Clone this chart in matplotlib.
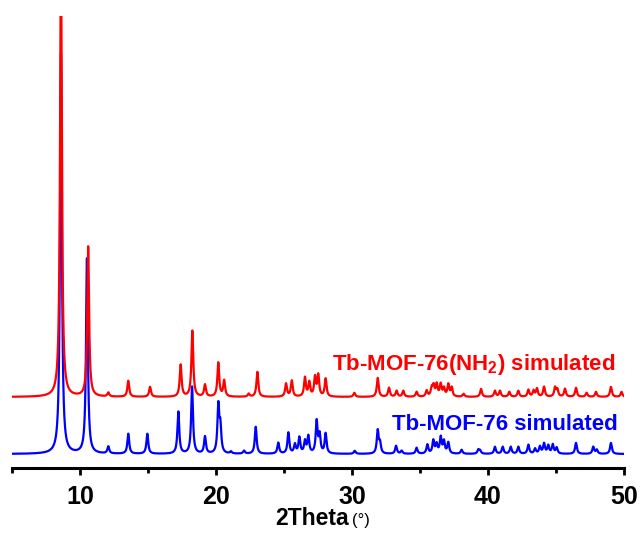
import numpy as np
import matplotlib
matplotlib.use("Agg")
import matplotlib.pyplot as plt

plt.rcParams['font.family'] = ['Liberation Sans', 'DejaVu Sans']
plt.rcParams['mathtext.fontset'] = 'custom'
plt.rcParams['mathtext.rm'] = 'Liberation Sans'
plt.rcParams['mathtext.bf'] = 'Liberation Sans:bold'
plt.rcParams['mathtext.default'] = 'bf'

# ---- data (peak positions in 2theta, relative intensities) ----
blue_pos = [8.6, 10.51, 12.08, 13.55, 14.95, 17.23, 18.24, 19.19, 20.17, 20.32,
            21.1, 22.06, 22.92, 24.58, 25.32, 25.8, 26.13, 26.54, 26.79, 27.4,
            27.62, 28.06, 30.2, 31.89, 32.06, 33.24, 33.65, 34.75, 35.54, 35.98,
            36.22, 36.52, 36.76, 37.08, 38.06, 39.29, 39.42, 40.51, 41.08, 41.67,
            42.23, 42.97, 43.46, 43.82, 44.12, 44.43, 44.76, 45.05, 46.47, 47.74,
            48.0, 49.04]
blue_int = [400, 195, 7, 20, 20, 42, 67, 17, 47, 25,
            2, 3, 27, 11, 21, 9, 16, 12, 17, 32,
            18, 20, 3, 23, 10, 8, 3, 6, 9, 13,
            9, 16, 12, 11, 4, 4, 3, 7, 7, 7,
            7, 9, 5, 7, 10, 8, 9, 6, 11, 7,
            4, 11]

red_pos = [8.6, 10.6, 12.08, 13.55, 15.15, 17.4, 18.26, 19.19, 20.17, 20.6,
           22.4, 23.04, 25.15, 25.57, 26.54, 26.86, 27.28, 27.52, 28.06, 30.17,
           31.89, 32.72, 33.28, 33.77, 34.75, 35.49, 35.86, 36.0, 36.23, 36.52,
           36.76, 37.08, 37.33, 38.2, 39.49, 40.51, 40.88, 41.57, 42.23, 42.97,
           43.35, 43.6, 44.12, 44.93, 45.1, 45.66, 46.47, 47.25, 47.94, 49.04,
           49.82]
red_int = [440, 150, 4, 16, 10, 32, 66, 12, 34, 16,
           3, 25, 13, 16, 19, 14, 19, 21, 18, 4,
           19, 9, 6, 6, 5, 6, 8, 10, 12, 12,
           8, 12, 9, 3, 8, 6, 6, 5, 6, 7,
           6, 8, 10, 9, 7, 8, 9, 4, 5, 10,
           5]
red_offset = 57

label_red = r"Tb-MOF-76(NH$_2$) simulated"
label_blue = "Tb-MOF-76 simulated"
xticks = [10, 20, 30, 40, 50]

# ---- profile ----
x = np.linspace(5, 50, 9001)
g = 0.08


def pattern(pos, inten):
    y = np.zeros_like(x)
    for p, h in zip(pos, inten):
        y += h * g**2 / ((x - p)**2 + g**2)
    return y


fig = plt.figure(figsize=(6.4, 5.38), dpi=100)
ax = fig.add_axes([12/640, 1 - 468/538, 612/640, 452/538])
ax.plot(x, pattern(blue_pos, blue_int), color='#0000ff', lw=1.6)
ax.plot(x, pattern(red_pos, red_int) + red_offset, color='#ff0000', lw=1.6)
ax.set_xlim(5, 50)
ax.set_ylim(-14, 438)

for s in ['left', 'right', 'top']:
    ax.spines[s].set_visible(False)
ax.spines['bottom'].set_linewidth(2.2)
ax.set_yticks([])
ax.set_xticks(xticks)
ax.set_xticks([5, 15, 25, 35, 45], minor=True)
ax.tick_params(axis='x', which='major', direction='out', length=5, width=2, pad=7,
               labelsize=18)
ax.tick_params(axis='x', which='minor', direction='out', length=3.5, width=2)
for lab in ax.get_xticklabels():
    lab.set_fontweight('bold')

ax.text(0.985, 0.217, label_red, transform=ax.transAxes, ha='right', va='baseline',
        color='#ff0000', fontsize=16, fontweight='bold')
ax.text(0.989, 0.084, label_blue, transform=ax.transAxes, ha='right', va='baseline',
        color='#0000ff', fontsize=16, fontweight='bold')

fig.text(349/640, 1 - 525/538, "2Theta", ha='right', va='baseline', fontsize=16.5,
         fontweight='bold')
fig.text(352/640, 1 - 525/538, "(°)", ha='left', va='baseline', fontsize=12)

fig.savefig("out.png", dpi=100)
